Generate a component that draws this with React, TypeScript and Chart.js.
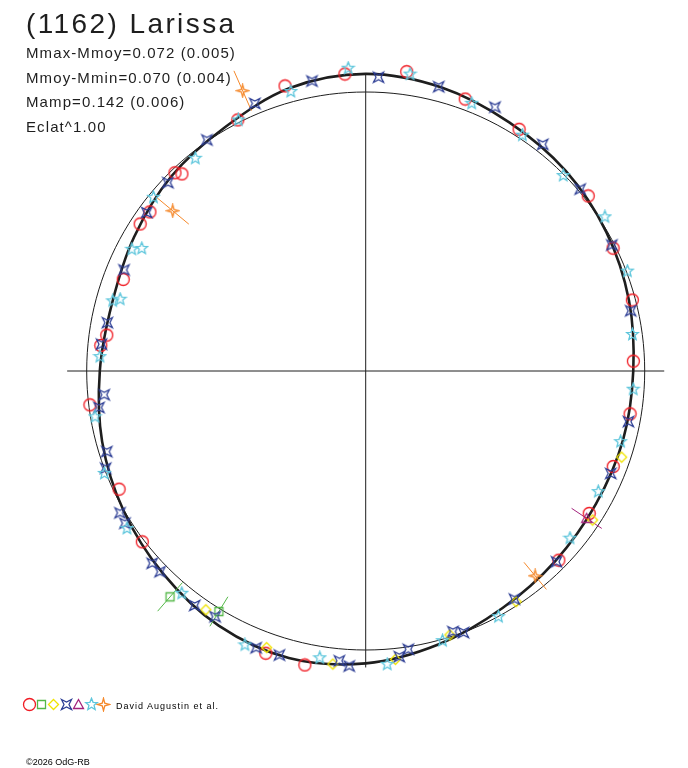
import React, { useEffect, useRef } from 'react';
import { Chart, registerables } from 'chart.js';

Chart.register(...registerables);

// phase in degrees (0 = up, clockwise), radius relative to the mean circle (1 = mean)
const FIT_PHASE = [0, 15, 30, 45, 60, 75, 90, 105, 120, 135, 150, 165, 180, 195, 210, 225, 240, 255, 270, 285, 300, 315, 330, 345];
const FIT_R = [1.065, 1.052, 1.029, 1.014, 0.996, 0.977, 0.959, 0.955, 0.953, 0.962, 0.981, 1.014, 1.048, 1.065, 1.054, 1.027, 1.002, 0.978, 0.953, 0.941, 0.959, 0.986, 1.009, 1.05];
const REF_R = 1;
const AXIS_EXT = 1.07;

const RED_PHASE = [333.0, 344.2, 356.0, 7.8, 20.1, 32.4, 51.8, 63.6, 75.1, 87.9, 99.2, 111.1, 122.5, 134.4, 191.7, 199.5, 232.6, 244.4, 263.0, 275.5, 277.9, 290.7, 303.1, 306.4, 316.1, 317.0];
const RED_R = [1.01, 1.062, 1.067, 1.083, 1.038, 1.026, 1.015, 0.99, 0.989, 0.96, 0.96, 0.951, 0.95, 0.969, 1.076, 1.073, 1.008, 0.98, 0.996, 0.954, 0.937, 0.929, 0.965, 0.961, 0.986, 0.966];

const GREEN_PHASE = [220.9, 211.4];
const GREEN_R = [1.071, 1.01];
const GREEN_ERR = [0.068, 0.062];

const YELLOW_PHASE = [108.6, 123.3, 146.9, 162.3, 174.1, 186.4, 199.7, 213.8];
const YELLOW_R = [0.968, 0.973, 0.987, 0.993, 1.039, 1.057, 1.053, 1.03];

const BLUE_PHASE = [337.5, 349.5, 2.5, 14.4, 26.1, 38.0, 49.7, 62.9, 77.2, 100.9, 112.7, 135.0, 146.9, 159.5, 161.5, 171.3, 173.3, 183.2, 185.2, 196.9, 201.6, 211.5, 216.1, 225.7, 228.0, 237.7, 240.0, 249.5, 252.7, 262.2, 264.8, 275.8, 280.6, 292.7, 305.9, 313.6, 325.5];
const BLUE_R = [1.038, 1.057, 1.054, 1.052, 1.053, 1.031, 1.008, 0.991, 0.974, 0.959, 0.952, 0.967, 0.976, 1.001, 0.985, 1.009, 1.031, 1.059, 1.043, 1.064, 1.067, 1.033, 1.04, 1.03, 1.03, 1.021, 1.017, 0.995, 0.972, 0.965, 0.941, 0.952, 0.942, 0.939, 0.969, 0.979, 1.005];

const PURPLE_PHASE = [123.7];
const PURPLE_R = [0.952];
const PURPLE_ERR = [0.065];

const CYAN_PHASE = [333.1, 345.0, 356.7, 8.5, 21.6, 33.6, 45.3, 57.2, 69.1, 82.2, 93.9, 105.5, 117.4, 129.3, 151.6, 164.1, 175.8, 189.1, 203.8, 219.6, 236.6, 248.6, 260.4, 273.1, 285.5, 286.3, 297.5, 298.7, 309.3, 321.3];
const CYAN_R = [1.009, 1.037, 1.087, 1.076, 1.032, 1.015, 0.996, 1.02, 1.004, 0.965, 0.961, 0.948, 0.939, 0.946, 1.001, 1.005, 1.054, 1.041, 1.073, 1.034, 1.025, 1.006, 0.984, 0.954, 0.941, 0.917, 0.945, 0.915, 0.983, 0.977];

const ORANGE_PHASE = [336.3, 309.7, 140.4];
const ORANGE_R = [1.097, 0.899, 0.953];
const ORANGE_ERR = [0.078, 0.075, 0.063];

const TITLE = '(1162) Larissa';
const STATS = ['Mmax-Mmoy=0.072 (0.005)', 'Mmoy-Mmin=0.070 (0.004)', 'Mamp=0.142 (0.006)', 'Eclat^1.00'];
const AUTHOR = 'David Augustin et al.';
const COPYRIGHT = '©2026 OdG-RB';

const W = 688;
const H = 768;
const CX = 365.7;
const CY = 371;
const R_PX = 279;

const INK = '#1e1e1e';
const RED = '#f01c24';
const GREEN = '#54b848';
const YELLOW = '#f0e400';
const BLUE = '#2b3c94';
const PURPLE = '#a3237c';
const CYAN = '#5ec6dc';
const ORANGE = '#f5882a';

const polar = (phase: number, r: number) => {
    const a = (phase * Math.PI) / 180;
    return { x: r * Math.sin(a), y: r * Math.cos(a) };
};

// closed smooth loop: wrap one point at each end and hide the two extra segments
const loop = (phases: number[], radii: number[]) => {
    const pts = phases.map((p, i) => polar(p, radii[i]));
    return [pts[pts.length - 1], ...pts, pts[0], pts[1]];
};

const makeGlyph = (kind: string, color: string): HTMLCanvasElement => {
    const size = 15;
    const c = document.createElement('canvas');
    c.width = size;
    c.height = size;
    const g = c.getContext('2d') as CanvasRenderingContext2D;
    const m = size / 2;
    g.strokeStyle = color;
    g.lineWidth = 1.3;
    const poly = (p: number[][]) => {
        g.moveTo(m + p[0][0], m + p[0][1]);
        p.slice(1).forEach(([x, y]) => g.lineTo(m + x, m + y));
        g.closePath();
    };
    const star = (n: number, outer: number, inner: number) => {
        const p: number[][] = [];
        for (let k = 0; k < n * 2; k++) {
            const a = -Math.PI / 2 + (k * Math.PI) / n;
            const rr = k % 2 ? inner : outer;
            p.push([rr * Math.cos(a), rr * Math.sin(a)]);
        }
        poly(p);
    };
    g.beginPath();
    if (kind === 'circle') g.arc(m, m, 6, 0, Math.PI * 2);
    else if (kind === 'square') g.rect(m - 4, m - 4, 8, 8);
    else if (kind === 'diamond') poly([[0, -5], [5, 0], [0, 5], [-5, 0]]);
    else if (kind === 'astroid') poly([[-5, -5], [0, -2.5], [5, -5], [2.5, 0], [5, 5], [0, 2.5], [-5, 5], [-2.5, 0]]);
    else if (kind === 'triangle') poly([[0, -5], [5, 4], [-5, 4]]);
    else if (kind === 'star5') star(5, 6.2, 2.7);
    else if (kind === 'star4') star(4, 6.2, 1.8);
    g.stroke();
    return c;
};

const App: React.FC = () => {
    const canvasRef = useRef<HTMLCanvasElement>(null);
    const chartRef = useRef<Chart | null>(null);

    useEffect(() => {
        if (!canvasRef.current) return;
        const ctx = canvasRef.current.getContext('2d');
        if (!ctx) return;
        if (chartRef.current) chartRef.current.destroy();

        const glyphs = {
            red: makeGlyph('circle', RED),
            green: makeGlyph('square', GREEN),
            yellow: makeGlyph('diamond', YELLOW),
            blue: makeGlyph('astroid', BLUE),
            purple: makeGlyph('triangle', PURPLE),
            cyan: makeGlyph('star5', CYAN),
            orange: makeGlyph('star4', ORANGE),
        };

        const markers = (label: string, phases: number[], radii: number[], glyph: HTMLCanvasElement) => ({
            label,
            data: phases.map((p, i) => polar(p, radii[i])),
            pointStyle: glyph,
            pointRadius: 6,
            showLine: false,
        });

        const errorBars = (phases: number[], radii: number[], errs: number[], color: string) =>
            phases.map((p, i) => ({
                label: 'err',
                data: [polar(p, radii[i] - errs[i]), polar(p, radii[i] + errs[i])],
                showLine: true,
                borderColor: color,
                borderWidth: 1,
                pointRadius: 0,
            }));

        const closedLine = (phases: number[], radii: number[], width: number) => {
            const data = loop(phases, radii);
            const n = data.length;
            return {
                label: 'curve',
                data,
                showLine: true,
                borderColor: INK,
                borderWidth: width,
                pointRadius: 0,
                tension: 0.34,
                segment: {
                    borderColor: (c: any) => (c.p0DataIndex === 0 || c.p0DataIndex === n - 2 ? 'rgba(0,0,0,0)' : INK),
                },
            };
        };

        const legendPlugin = {
            id: 'symbolLegend',
            afterDraw: (chart: Chart) => {
                const c = chart.ctx;
                const list = [glyphs.red, glyphs.green, glyphs.yellow, glyphs.blue, glyphs.purple, glyphs.cyan, glyphs.orange];
                list.forEach((gl, i) => {
                    const x = 29 + i * 12.4;
                    c.drawImage(gl, Math.round(x - gl.width / 2), 697, gl.width, gl.height);
                });
            },
        };

        chartRef.current = new Chart(ctx, {
            type: 'scatter',
            data: {
                datasets: [
                    markers('Orange', ORANGE_PHASE, ORANGE_R, glyphs.orange),
                    markers('Cyan', CYAN_PHASE, CYAN_R, glyphs.cyan),
                    markers('Purple', PURPLE_PHASE, PURPLE_R, glyphs.purple),
                    markers('Blue', BLUE_PHASE, BLUE_R, glyphs.blue),
                    markers('Yellow', YELLOW_PHASE, YELLOW_R, glyphs.yellow),
                    markers('Green', GREEN_PHASE, GREEN_R, glyphs.green),
                    markers('Red', RED_PHASE, RED_R, glyphs.red),
                    ...errorBars(ORANGE_PHASE, ORANGE_R, ORANGE_ERR, ORANGE),
                    ...errorBars(PURPLE_PHASE, PURPLE_R, PURPLE_ERR, PURPLE),
                    ...errorBars(GREEN_PHASE, GREEN_R, GREEN_ERR, GREEN),
                    closedLine(FIT_PHASE, FIT_R, 2.6),
                    closedLine(FIT_PHASE, FIT_PHASE.map(() => REF_R), 1),
                    {
                        label: 'axis-x',
                        data: [{ x: -AXIS_EXT, y: 0 }, { x: AXIS_EXT, y: 0 }],
                        showLine: true,
                        borderColor: INK,
                        borderWidth: 1,
                        pointRadius: 0,
                    },
                    {
                        label: 'axis-y',
                        data: [{ x: 0, y: -AXIS_EXT * 0.993 }, { x: 0, y: AXIS_EXT * 0.993 }],
                        showLine: true,
                        borderColor: INK,
                        borderWidth: 1,
                        pointRadius: 0,
                    },
                ] as any,
            },
            options: {
                responsive: false,
                animation: false,
                events: [],
                layout: { padding: 0, autoPadding: false },
                scales: {
                    x: { type: 'linear', display: false, min: -CX / R_PX, max: (W - CX) / R_PX },
                    y: { type: 'linear', display: false, min: -(H - CY) / R_PX, max: CY / R_PX },
                },
                plugins: {
                    legend: { display: false },
                    tooltip: { enabled: false },
                },
            },
            plugins: [legendPlugin],
        });

        return () => {
            if (chartRef.current) {
                chartRef.current.destroy();
                chartRef.current = null;
            }
        };
    }, []);

    const font = '"Liberation Sans", Arial, sans-serif';
    const text = (top: number, size: number, spacing: number): React.CSSProperties => ({
        position: 'absolute',
        left: 26,
        top,
        fontSize: size,
        lineHeight: 1,
        letterSpacing: spacing,
        whiteSpace: 'nowrap',
    });

    return (
        <div style={{ position: 'absolute', left: 0, top: 0, width: W, height: H, background: '#fff', color: INK, fontFamily: font }}>
            <canvas ref={canvasRef} width={W} height={H} style={{ position: 'absolute', left: 0, top: 0 }} />
            <div style={text(9.6, 28, 2.4)}>{TITLE}</div>
            {STATS.map((s, i) => (
                <div key={s} style={text(44.8 + i * 24.8, 15, 1.1)}>{s}</div>
            ))}
            <div style={{ ...text(701.7, 9, 1), left: 116, color: '#000' }}>{AUTHOR}</div>
            <div style={{ ...text(758.4, 9, 0), color: '#000' }}>{COPYRIGHT}</div>
        </div>
    );
};

export default App;
